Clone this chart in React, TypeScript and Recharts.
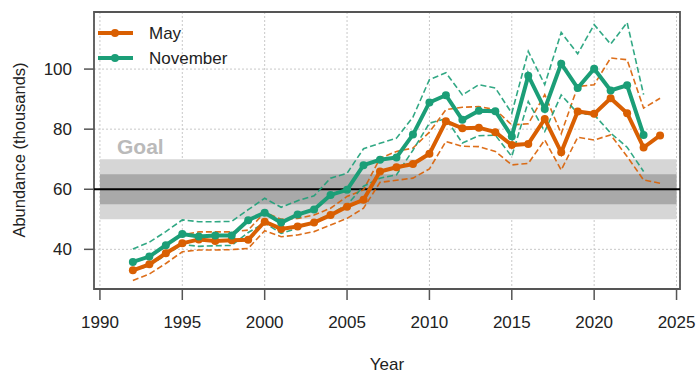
import { ComposedChart, Line, XAxis, YAxis, CartesianGrid, ReferenceArea, ReferenceLine } from 'recharts'

const years = [
  1992, 1993, 1994, 1995, 1996, 1997, 1998, 1999, 2000, 2001, 2002, 2003, 2004, 2005, 2006, 2007,
  2008, 2009, 2010, 2011, 2012, 2013, 2014, 2015, 2016, 2017, 2018, 2019, 2020, 2021, 2022, 2023, 2024,
]

// May survey estimate with upper / lower interval
const may = [
  33.0, 35.0, 38.7, 42.0, 43.3, 42.8, 43.0, 43.2, 49.2, 46.8, 47.6, 48.9, 51.4, 54.2, 56.5, 65.9,
  67.3, 68.4, 71.8, 82.6, 80.3, 80.5, 79.0, 74.7, 75.1, 83.4, 72.3, 85.9, 85.1, 90.3, 85.3, 73.9, 77.9,
]
const mayHi = [
  35.5, 37.5, 41.0, 44.8, 45.8, 45.8, 45.8, 46.4, 52.3, 50.0, 50.3, 51.4, 53.7, 57.6, 59.8, 70.3,
  72.6, 73.7, 79.0, 86.5, 87.3, 87.5, 86.5, 81.4, 81.8, 91.5, 78.5, 94.2, 94.8, 103.7, 103.1, 87.0, 90.3,
]
const mayLo = [
  29.6, 31.8, 35.3, 39.2, 39.8, 39.8, 39.9, 40.3, 46.2, 44.2, 44.8, 45.9, 48.1, 50.3, 53.7, 62.3,
  63.0, 63.7, 66.8, 75.9, 74.3, 74.2, 72.6, 68.1, 68.6, 76.4, 66.4, 77.3, 76.4, 78.1, 70.9, 63.1, 62.0,
]

// November survey estimate with upper / lower interval (no 2024 value yet)
const nov = [
  35.8, 37.6, 41.4, 45.1, 44.3, 44.6, 44.6, 49.7, 52.2, 48.9, 51.6, 53.3, 58.1, 59.8, 68.0, 69.8,
  70.6, 78.2, 88.9, 91.3, 83.1, 86.1, 86.0, 77.6, 97.8, 86.7, 101.8, 93.7, 100.1, 92.9, 94.6, 78.1, null,
]
const novHi = [
  40.1, 42.4, 45.9, 49.8, 49.2, 49.2, 49.3, 53.2, 57.0, 54.0, 56.2, 57.8, 63.7, 65.3, 73.5, 75.3,
  77.0, 84.0, 96.5, 98.8, 91.4, 94.8, 93.7, 85.3, 105.9, 94.8, 112.2, 105.1, 114.8, 108.3, 115.5, 91.5, null,
]
const novLo = [
  32.8, 34.6, 38.2, 41.6, 41.0, 41.2, 41.3, 45.6, 48.8, 45.3, 47.0, 49.2, 51.8, 54.8, 61.0, 63.7,
  64.8, 73.0, 82.0, 83.5, 75.4, 77.8, 78.0, 70.9, 89.2, 79.2, 91.4, 85.3, 84.8, 78.7, 74.0, 65.9, null,
]

const xTicks = [1990, 1995, 2000, 2005, 2010, 2015, 2020, 2025]
const yTicks = [40, 60, 80, 100]
const goal = 60
const goalInner = [55, 65]
const goalOuter = [50, 70]
const goalSpan = [1990, 2025]

const xDomain = [1989.64, 2025.21]
const yDomain = [26.8, 119]

const MAY = '#D95F02'
const NOV = '#1B9E77'
const FONT = '"Liberation Sans", Arial, Helvetica, sans-serif'
const FS = 17

const data = years.map((year, i) => ({
  year,
  may: may[i],
  mayHi: mayHi[i],
  mayLo: mayLo[i],
  nov: nov[i],
  novHi: novHi[i],
  novLo: novLo[i],
}))

const dashed = { strokeWidth: 1.6, strokeDasharray: '6 3', strokeOpacity: 0.9, dot: false, activeDot: false, isAnimationActive: false }

export default function App() {
  return (
    <div style={{ position: 'absolute', left: 0, top: 0, background: '#fff', fontFamily: FONT }}>
      <ComposedChart width={699} height={374} data={data} margin={{ top: 12, right: 19, bottom: 55, left: 0 }}>
        <CartesianGrid stroke="#c8c8c8" strokeDasharray="2 2" />
        <XAxis
          type="number"
          dataKey="year"
          domain={xDomain}
          ticks={xTicks}
          allowDataOverflow
          height={30}
          axisLine={false}
          tickSize={11}
          tickMargin={16}
          tickLine={{ stroke: '#555', strokeWidth: 1.5 }}
          tick={{ fontSize: FS, fill: '#222', fontFamily: FONT }}
        />
        <YAxis
          type="number"
          domain={yDomain}
          ticks={yTicks}
          allowDataOverflow
          width={94}
          axisLine={false}
          tickSize={10}
          tickMargin={12}
          tickLine={{ stroke: '#555', strokeWidth: 1.5 }}
          tick={{ fontSize: FS, fill: '#222', fontFamily: FONT }}
        />

        <ReferenceArea x1={goalSpan[0]} x2={goalSpan[1]} y1={goalOuter[0]} y2={goalOuter[1]} fill="#d6d6d6" fillOpacity={1} stroke="none" />
        <ReferenceArea x1={goalSpan[0]} x2={goalSpan[1]} y1={goalInner[0]} y2={goalInner[1]} fill="#a9a9a9" fillOpacity={1} stroke="none" />
        <ReferenceLine y={goal} stroke="#000" strokeWidth={2} />

        <Line dataKey="mayHi" stroke={MAY} {...dashed} />
        <Line dataKey="mayLo" stroke={MAY} {...dashed} />
        <Line dataKey="novHi" stroke={NOV} {...dashed} />
        <Line dataKey="novLo" stroke={NOV} {...dashed} />

        <Line
          dataKey="may"
          stroke={MAY}
          strokeWidth={4}
          dot={{ r: 4, fill: MAY, stroke: MAY, strokeWidth: 0 }}
          activeDot={false}
          isAnimationActive={false}
        />
        <Line
          dataKey="nov"
          stroke={NOV}
          strokeWidth={4}
          dot={{ r: 4, fill: NOV, stroke: NOV, strokeWidth: 0 }}
          activeDot={false}
          isAnimationActive={false}
        />

        <ReferenceArea x1={xDomain[0]} x2={xDomain[1]} y1={yDomain[0]} y2={yDomain[1]} fill="none" stroke="#555" strokeWidth={1.8} />

        {/* goal label */}
        <text x={117} y={154} fontSize={21} fontWeight="bold" fill="#bababa" fontFamily={FONT}>
          Goal
        </text>

        {/* legend */}
        <g fontFamily={FONT} fontSize={FS} fill="#222">
          <line x1={98} y1={33} x2={133} y2={33} stroke={MAY} strokeWidth={4} />
          <circle cx={115} cy={33} r={4} fill={MAY} />
          <text x={149} y={33} dominantBaseline="central">May</text>
          <line x1={98} y1={58} x2={133} y2={58} stroke={NOV} strokeWidth={4} />
          <circle cx={115} cy={58} r={4} fill={NOV} />
          <text x={149} y={58} dominantBaseline="central">November</text>
        </g>

        {/* axis titles */}
        <text x={387} y={364} textAnchor="middle" dominantBaseline="central" fontSize={FS} fill="#222" fontFamily={FONT}>
          Year
        </text>
        <text
          x={19}
          y={150}
          textAnchor="middle"
          dominantBaseline="central"
          fontSize={16.5}
          fill="#222"
          fontFamily={FONT}
          transform="rotate(-90 19 150)"
        >
          Abundance (thousands)
        </text>
      </ComposedChart>
    </div>
  )
}
